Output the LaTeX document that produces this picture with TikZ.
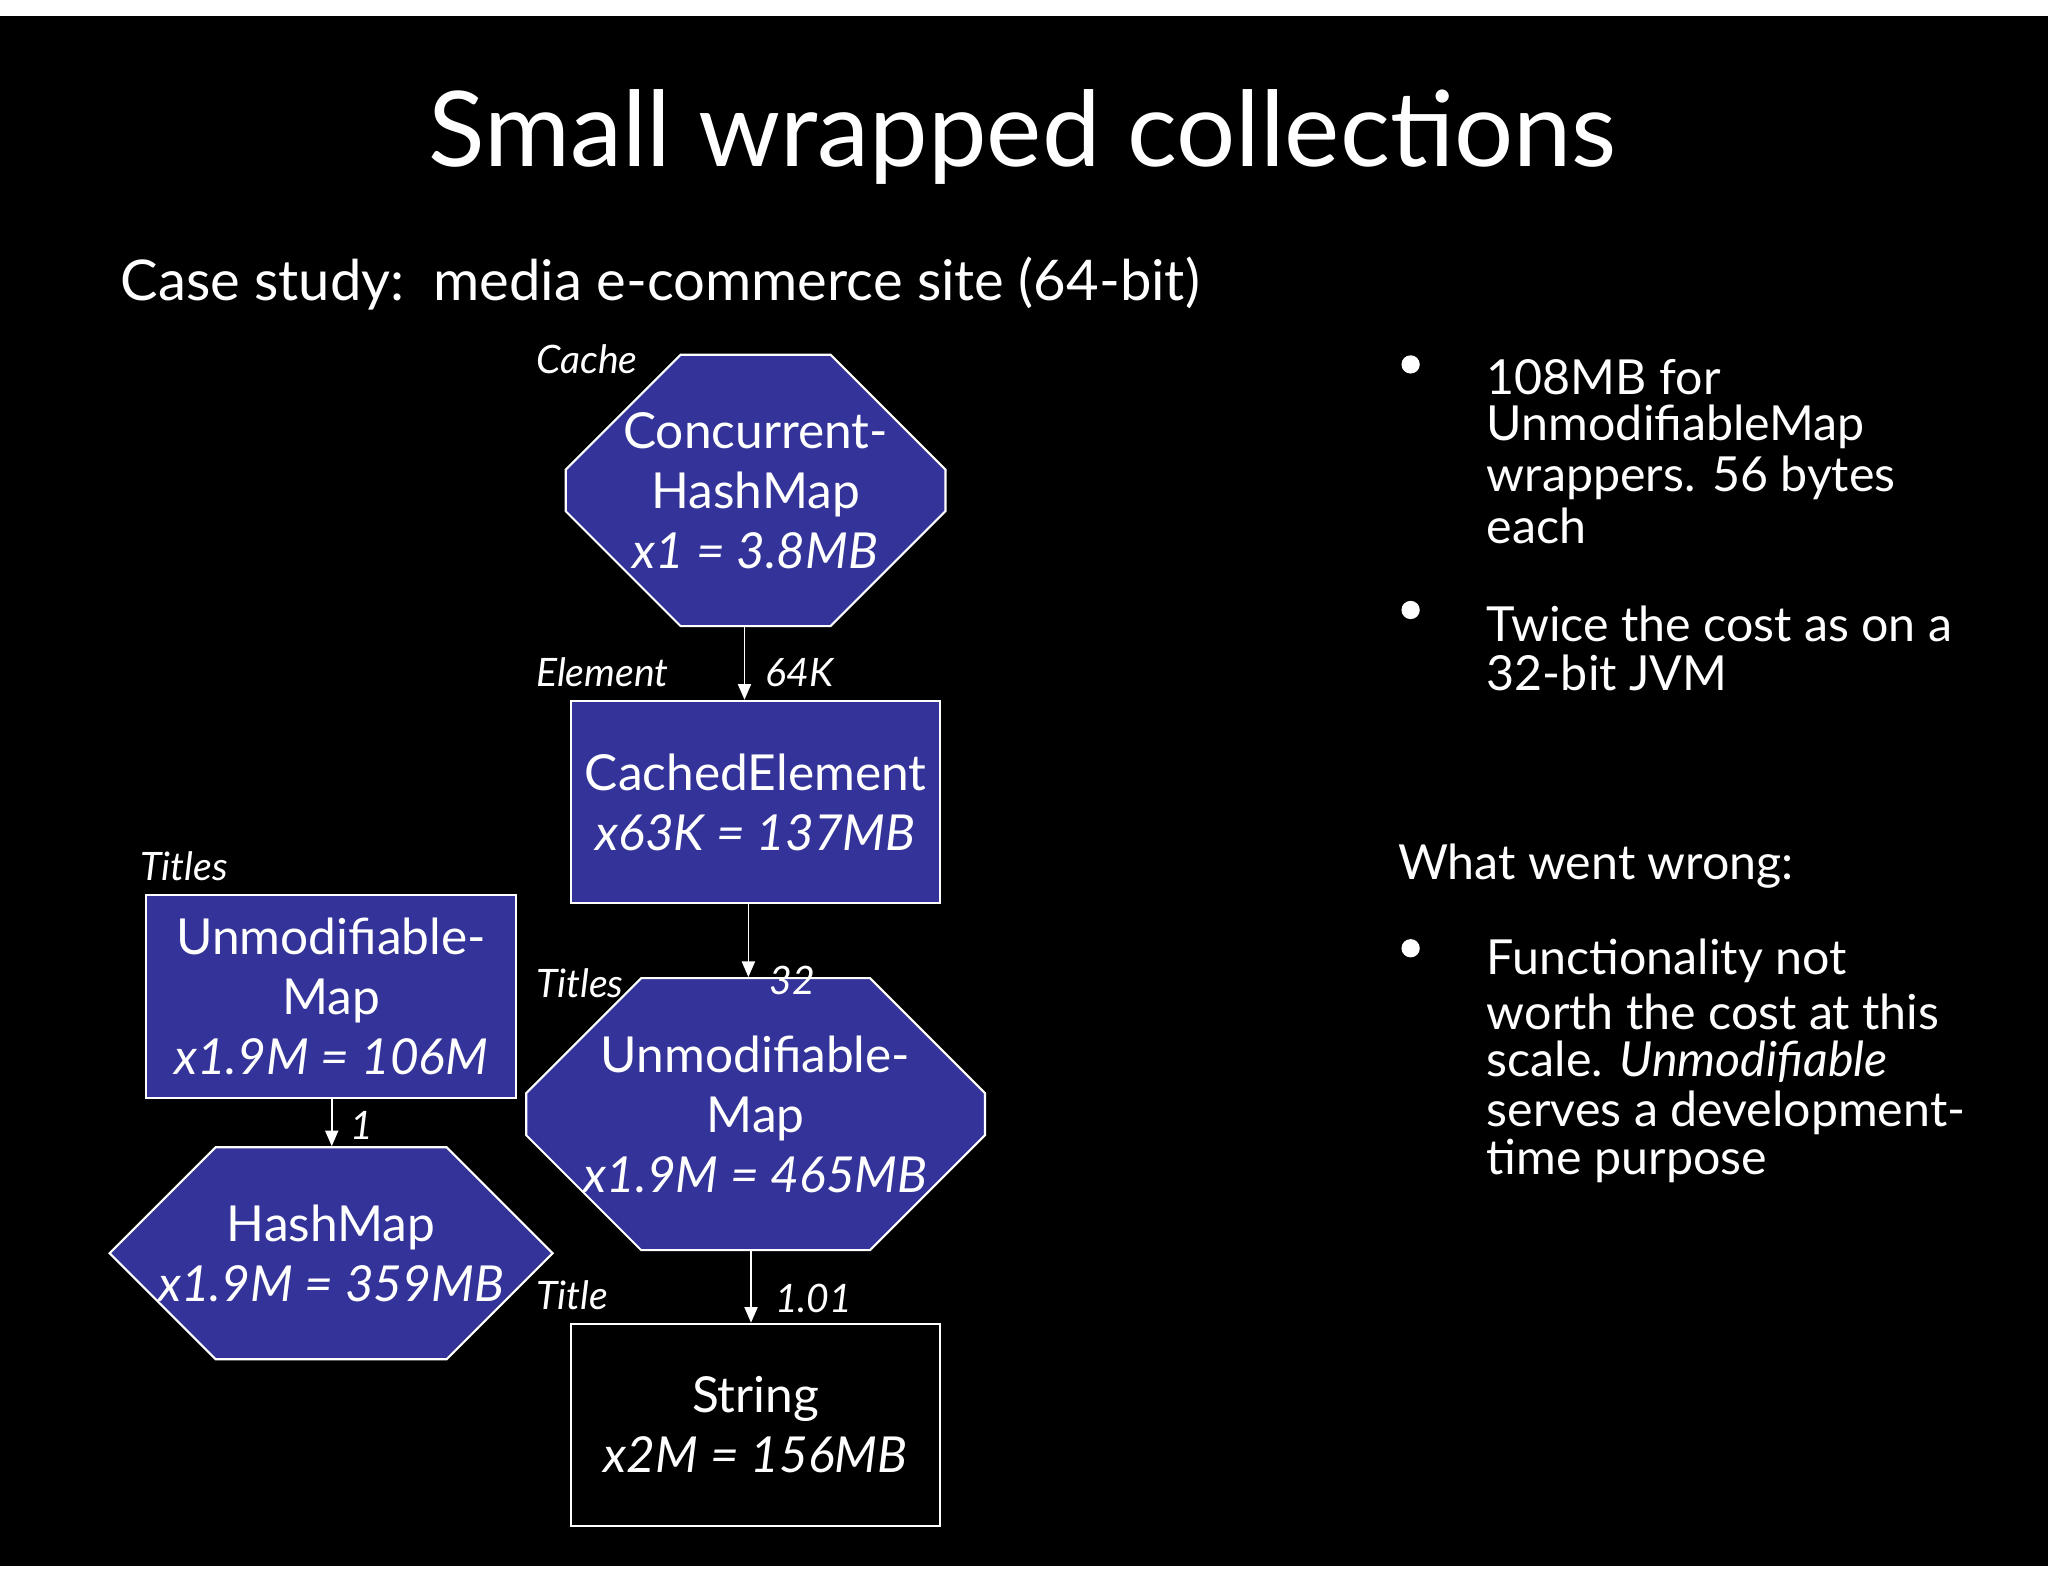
\documentclass[tikz,border=0pt]{standalone}
\usepackage{fontspec}
\setmainfont{Lato}
\usetikzlibrary{shapes.misc,arrows.meta}
\definecolor{boxblue}{HTML}{333399}
\begin{document}
\begin{tikzpicture}[x=0.5pt,y=-0.5pt,
  box/.style={draw=white,line width=0.8pt,text=white,minimum width=141.5pt,minimum height=77.5pt,inner sep=0pt,align=center,font=\fontsize{19}{23}\selectfont},
  oct/.style={box,chamfered rectangle,chamfered rectangle xsep=22pt,chamfered rectangle ysep=22pt,fill=boxblue},
  rbox/.style={box,rectangle,fill=boxblue},
  lab/.style={text=white,font=\itshape\fontsize{15}{18}\selectfont,anchor=west,inner sep=0pt},
  arr/.style={draw=white,line width=0.7pt,-{Triangle[width=5pt,length=6pt]}},
  btxt/.style={text=white,font=\fontsize{18.5}{19}\selectfont,anchor=west,inner sep=0pt},
  dot/.style={circle,fill=white,minimum size=7pt,inner sep=0pt}]
\useasboundingbox (0,0) rectangle (1568,1211);
\fill[white] (0,0) rectangle (1568,1211);
\fill[black] (0,12) rectangle (1568,1199);
\node[text=white,font=\fontsize{40}{48}\selectfont] (title) at (783,105) {Small wrapped collections};
\node[text=white,font=\fontsize{21.5}{26}\selectfont,anchor=west,inner sep=0pt] (sub) at (92,217) {Case study:\ \ media e-commerce site (64-bit)};
% nodes
\node[oct] (chm) at (578.5,375.5) {Concurrent-\\HashMap\\\itshape x1 = 3.8MB};
\node[rbox] (ce) at (578.5,614) {CachedElement\\\itshape x63K = 137MB};
\node[rbox] (uml) at (253.5,763) {Unmodifiable-\\Map\\\itshape x1.9M = 106M};
\node[oct] (umc) at (578.5,853) {Unmodifiable-\\Map\\\itshape x1.9M = 465MB};
\node[oct] (hm) at (253.5,959.5) {HashMap\\\itshape x1.9M = 359MB};
\node[box,fill=black] (str) at (578.5,1091) {String\\\itshape x2M = 156MB};
% arrows
\draw[arr] (chm.south -| 570,0) -- (ce.north -| 570,0);
\draw[arr] (ce.south -| 573,0) -- (umc.north -| 573,0);
\draw[arr] (umc.south -| 575,0) -- (str.north -| 575,0);
\draw[arr] (uml.south -| 254,0) -- (hm.north -| 254,0);
% labels
\node[lab] (l1) at (410,275) {Cache};
\node[lab] (l2) at (410,515) {Element};
\node[lab] (l3) at (586,515) {64K};
\node[lab] (l4) at (107,663) {Titles};
\node[lab] (l5) at (410,753) {Titles};
\node[lab] (l6) at (589,751) {32};
\node[lab] (l7) at (268,862) {1};
\node[lab] (l8) at (410,992) {Title};
\node[lab] (l9) at (593,994) {1.01};
% bullets
\node[dot] (d1) at (1080,279) {};
\node[btxt] (b1a) at (1138,289) {108MB for};
\node[btxt] (b1b) at (1138,327) {UnmodifiableMap};
\node[btxt] (b1c) at (1138,366) {wrappers. 56 bytes};
\node[btxt] (b1d) at (1138,403) {each};
\node[dot] (d2) at (1080,467) {};
\node[btxt] (b2a) at (1138,478) {Twice the cost as on a};
\node[btxt] (b2b) at (1138,515) {32-bit JVM};
\node[btxt] (ww) at (1070,663) {What went wrong:};
\node[dot] (d3) at (1080,726) {};
\node[btxt] (b3a) at (1138,736) {Functionality not};
\node[btxt] (b3b) at (1138,775) {worth the cost at this};
\node[btxt] (b3c) at (1138,813) {scale. \textit{Unmodifiable}};
\node[btxt] (b3d) at (1138,852) {serves a development-};
\node[btxt] (b3e) at (1138,889) {time purpose};
\end{tikzpicture}
\end{document}
